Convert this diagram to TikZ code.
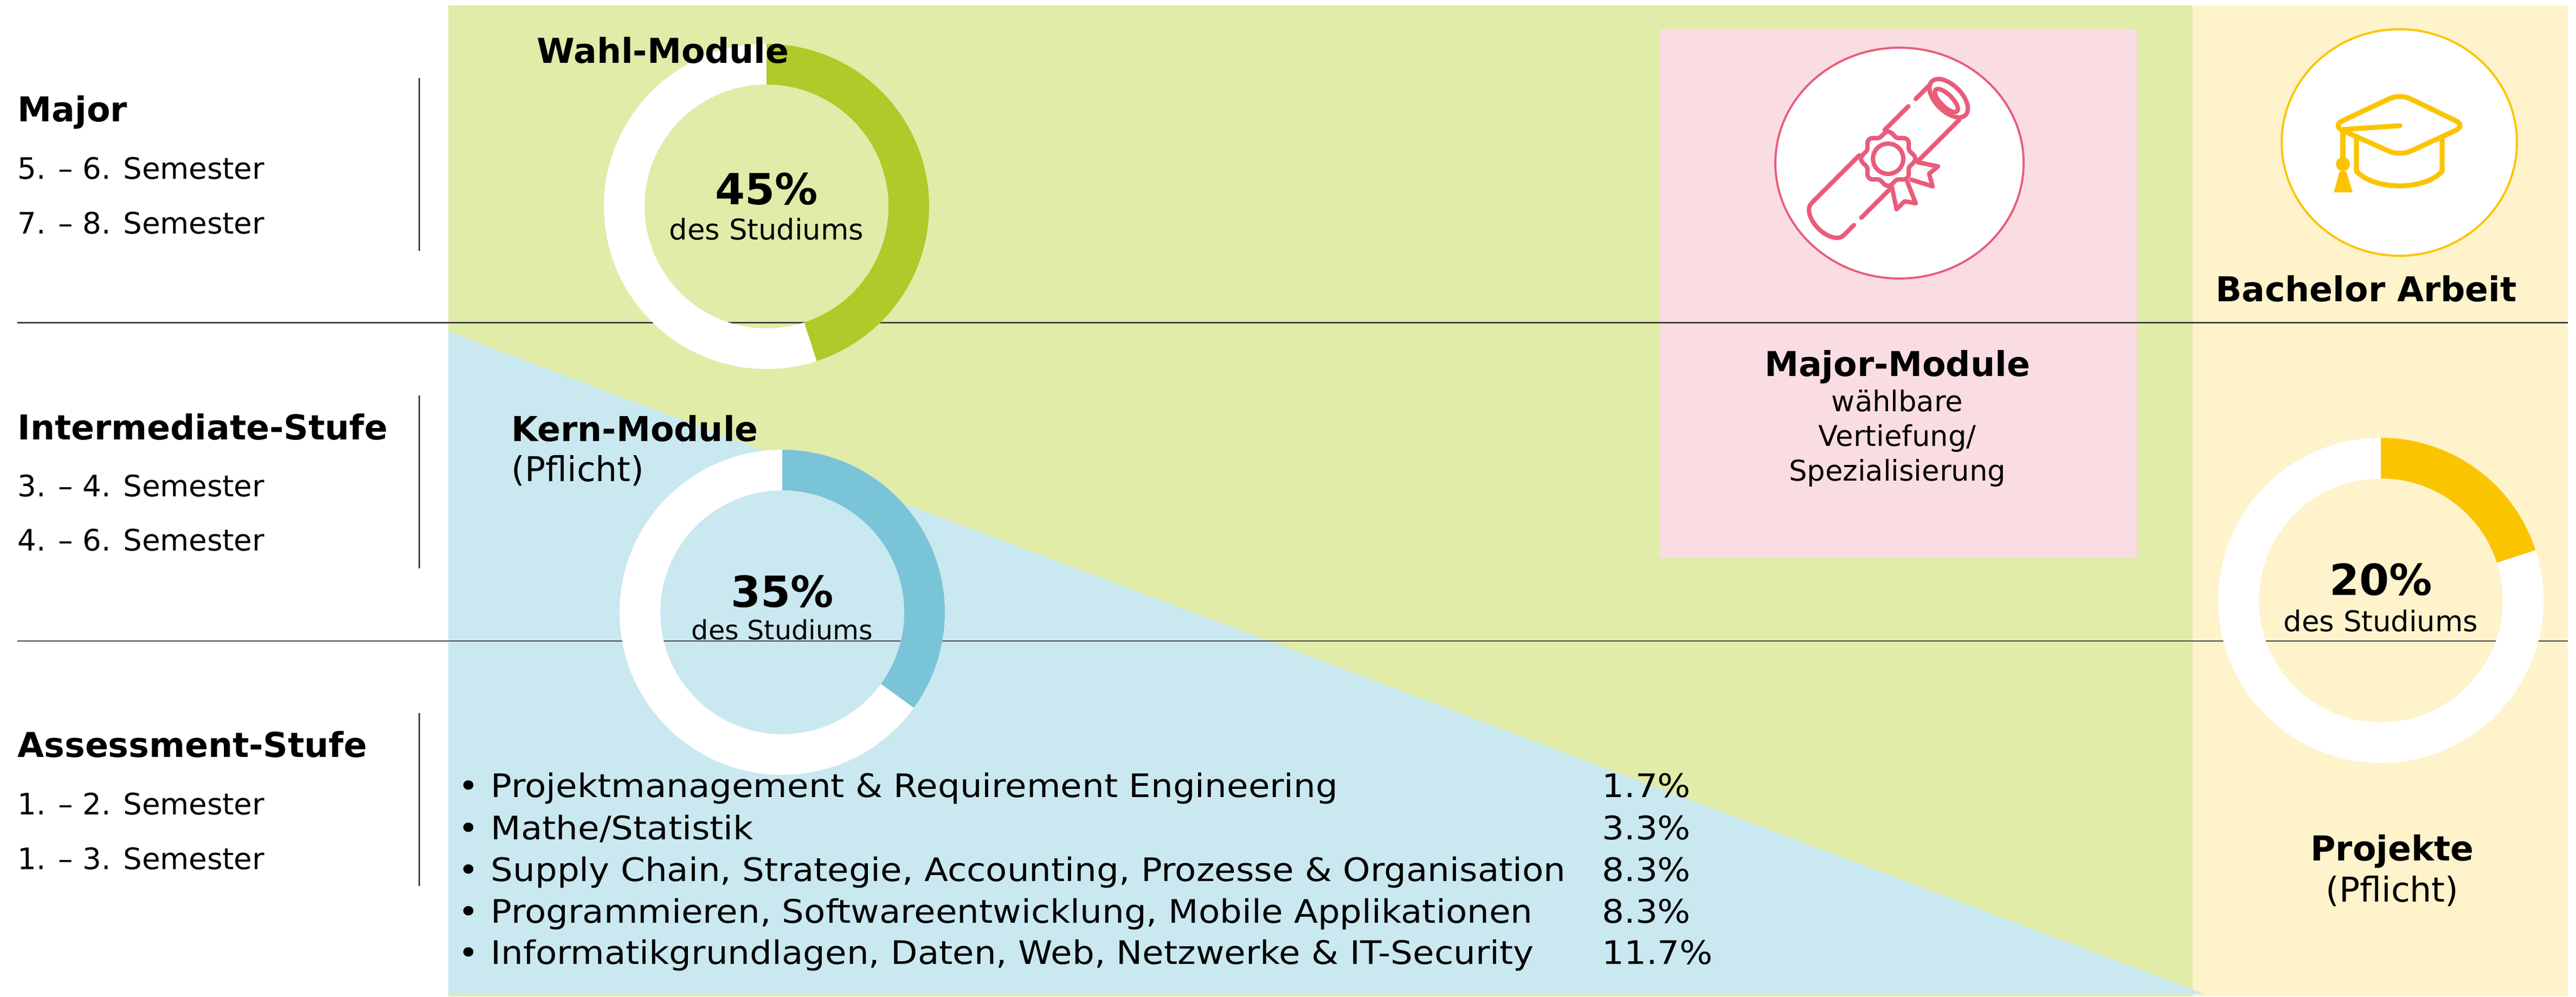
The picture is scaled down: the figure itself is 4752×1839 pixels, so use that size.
\documentclass[tikz,border=0pt]{standalone}
\usepackage{fontspec}
\setmainfont{DejaVu Sans}
\newfontfamily\listfont[FakeStretch=1.075]{DejaVu Sans}
\usepackage{tikz}
\usetikzlibrary{calc}
\pgfdeclarelayer{bglayer}
\pgfdeclarelayer{nodelayer}
\pgfdeclarelayer{edgelayer}
\pgfsetlayers{bglayer,edgelayer,main,nodelayer}
\definecolor{greenbg}{RGB}{224,236,168}
\definecolor{greenarc}{RGB}{175,202,41}
\definecolor{bluebg}{RGB}{202,232,240}
\definecolor{bluearc}{RGB}{122,196,216}
\definecolor{yellowbg}{RGB}{255,243,204}
\definecolor{yellowarc}{RGB}{251,196,0}
\definecolor{pinkbg}{RGB}{250,221,226}
\definecolor{pinkline}{RGB}{233,92,122}
\definecolor{rulegray}{RGB}{70,70,70}
\tikzset{
    none/.style = {inner sep=0pt},
    heading/.style = {none, anchor=base west, font=\fontsize{18}{22}\selectfont\bfseries},
    subhead/.style = {none, anchor=base west, font=\fontsize{18}{22}\selectfont},
    semester/.style = {none, anchor=base west, font=\fontsize{15.5}{19}\selectfont},
    item/.style = {none, anchor=base west, font=\listfont\fontsize{17}{21}\selectfont},
    percent/.style = {none, anchor=base, font=\fontsize{22.5}{27}\selectfont\bfseries},
    studium/.style = {none, anchor=base, font=\fontsize{15}{18}\selectfont},
    rule/.style = {draw=rulegray, line width=0.85pt},
    icon/.style = {line width=2.3pt, line cap=round, line join=round}
}
\begin{document}
\begin{tikzpicture}[x=0.01cm, y=0.01cm]
    \useasboundingbox (0,0) rectangle (4752,1839);
    \begin{pgfonlayer}{bglayer}
        \fill [greenbg] (827,0) rectangle (4045,1829);
        \fill [yellowbg] (4045,0) rectangle (4737,1829);
        \fill [bluebg] (827,1227) -- (4068,4) -- (827,4) -- cycle;
        \fill [pinkbg] (3062,809) rectangle (3942,1785);
    \end{pgfonlayer}
    \begin{pgfonlayer}{edgelayer}
        \draw [rule] (32,1243) -- (4737,1243);
        \draw [rule] (32,656) -- (4737,656);
        \draw [rule] (773,1695) -- (773,1376);
        \draw [rule] (773,1109) -- (773,790);
        \draw [rule] (773,523) -- (773,204);
    \end{pgfonlayer}
    % rings: center x / center y / end angle / colour
    \foreach \cx/\cy/\ang/\col in {1414/1458/-72/greenarc, 1443/709/-36/bluearc, 4392/731/18/yellowarc} {
        \fill [white, even odd rule] (\cx,\cy) circle [radius=300] (\cx,\cy) circle [radius=225];
        \fill [\col] ($(\cx,\cy)+(90:300)$) arc [start angle=90, end angle=\ang, radius=300]
            -- ($(\cx,\cy)+(\ang:225)$) arc [start angle=\ang, end angle=90, radius=225] -- cycle;
    }
    % icon circles
    \draw [pinkline, line width=1.1pt, fill=white] (3504,1538) ellipse [x radius=229, y radius=213];
    \draw [yellowarc, line width=1.1pt, fill=white] (4426,1576) ellipse [x radius=217, y radius=209];
    % diploma
    \begin{scope}[shift={(3483,1546)}, rotate=45, pinkline, icon]
        \draw (150,42) -- (114,42);
        \draw (95,42) -- (33,42);
        \draw (-33,42) -- (-156,42);
        \draw (144,-42) -- (38,-42);
        \draw (-39,-42) -- (-112,-42);
        \draw (-131,-42) -- (-158,-42);
        \draw (158,0) ellipse [x radius=24, y radius=44];
        \draw (152,0) ellipse [x radius=11, y radius=28];
        \draw (-158,42) arc [start angle=90, end angle=270, x radius=24, y radius=42];
        \filldraw [fill=white] (34,-43) -- (55,-75) -- (34,-73) -- (22,-94) -- (3,-58);
        \filldraw [fill=white] (-32,-42) -- (-55,-77) -- (-34,-77) -- (-22,-94) -- (-5,-55);
        \filldraw [fill=white] plot [domain=0:360, samples=121, smooth cycle] (\x:{46+4*cos(8*\x)});
        \draw (0,0) circle [radius=28];
    \end{scope}
    % graduation cap
    \begin{scope}[yellowarc, line width=2.6pt, line cap=round, line join=round]
        \draw [rounded corners=6] (4427,1666) -- (4549,1607) -- (4427,1551) -- (4302,1607) -- cycle;
        \draw (4322,1600) -- (4427,1607);
        \draw (4322,1600) -- (4322,1546);
        \fill (4322,1536) circle [radius=13];
        \fill (4316,1523) -- (4328,1523) -- (4340,1484) -- (4305,1484) -- cycle;
        \draw (4347,1587) -- (4347,1523) .. controls (4380,1487) and (4474,1487) .. (4505,1523) -- (4505,1587);
    \end{scope}
    \begin{pgfonlayer}{nodelayer}
        \node [style=heading] (0) at (32,1614) {Major};
        \node [style=semester] (1) at (32,1508) {5. – 6. Semester};
        \node [style=semester] (2) at (32,1407) {7. – 8. Semester};
        \node [style=heading] (3) at (32,1027) {Intermediate-Stufe};
        \node [style=semester] (4) at (32,922) {3. – 4. Semester};
        \node [style=semester] (5) at (32,822) {4. – 6. Semester};
        \node [style=heading] (6) at (32,442) {Assessment-Stufe};
        \node [style=semester] (7) at (32,336) {1. – 2. Semester};
        \node [style=semester] (8) at (32,235) {1. – 3. Semester};
        \node [style=heading] (9) at (990,1722) {Wahl-Module};
        \node [style=percent] (10) at (1414,1461) {45\%};
        \node [style=studium] (11) at (1414,1396) {des Studiums};
        \node [style=heading] (12) at (943,1024) {Kern-Module};
        \node [style=subhead] (13) at (943,950) {(Pflicht)};
        \node [style=percent] (14) at (1443,718) {35\%};
        \node [style=studium, font=\fontsize{14}{17}\selectfont] (15) at (1443,658) {des Studiums};
        \node [style=percent] (16) at (4392,740) {20\%};
        \node [style=studium] (17) at (4392,673) {des Studiums};
        \node [style=heading, anchor=base] (18) at (4365,1282) {Bachelor Arbeit};
        \node [style=heading, anchor=base] (19) at (4413,251) {Projekte};
        \node [style=subhead, anchor=base] (20) at (4413,175) {(Pflicht)};
        \node [style=heading, anchor=base] (21) at (3500,1144) {Major-Module};
        \node [style=studium] (22) at (3500,1079) {wählbare};
        \node [style=studium] (23) at (3500,1015) {Vertiefung/};
        \node [style=studium] (24) at (3500,951) {Spezialisierung};
        \foreach \y in {367,290,213,136,60}
            \node [style=item] (b\y) at (845,\y) {•};
        \node [style=item] (25) at (905,367) {Projektmanagement \& Requirement Engineering};
        \node [style=item] (26) at (905,290) {Mathe/Statistik};
        \node [style=item] (27) at (905,213) {Supply Chain, Strategie, Accounting, Prozesse \& Organisation};
        \node [style=item] (28) at (905,136) {Programmieren, Softwareentwicklung, Mobile Applikationen};
        \node [style=item] (29) at (905,60) {Informatikgrundlagen, Daten, Web, Netzwerke \& IT-Security};
        \node [style=item] (30) at (2955,367) {1.7\%};
        \node [style=item] (31) at (2955,290) {3.3\%};
        \node [style=item] (32) at (2955,213) {8.3\%};
        \node [style=item] (33) at (2955,136) {8.3\%};
        \node [style=item] (34) at (2955,60) {11.7\%};
    \end{pgfonlayer}
\end{tikzpicture}
\end{document}
